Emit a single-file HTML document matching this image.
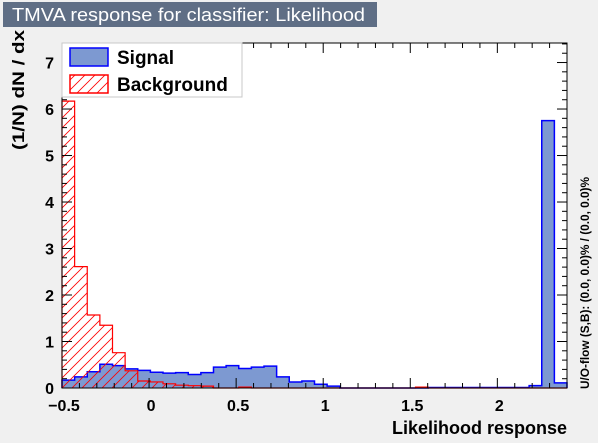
<!DOCTYPE html>
<html><head><meta charset="utf-8"><style>
body{margin:0;background:#f0f0f0;}
svg{display:block;font-family:"Liberation Sans",sans-serif;}
</style></head><body>
<svg id="c" width="598" height="443">
<defs>
<pattern id="hatch" patternUnits="userSpaceOnUse" width="10" height="10">
<path d="M0,10 L10,0 M-2,2 L2,-2 M8,12 L12,8" stroke="#ff0000" stroke-width="0.8"/>
</pattern>
</defs>
<rect x="0" y="0" width="598" height="443" fill="#f0f0f0"/>
<rect x="3" y="2" width="374" height="25" fill="#5f6e85"/>
<text x="12" y="21" font-size="18" fill="#fff" textLength="353" lengthAdjust="spacingAndGlyphs">TMVA response for classifier: Likelihood</text>
<rect x="62" y="43" width="505" height="345" fill="#fff"/>
<g id="marks"></g>
<g id="axes"></g>
<rect x="62" y="43" width="505" height="345" fill="none" stroke="#000" stroke-width="1"/>
<g>
<rect x="62" y="43" width="180" height="54" fill="#fff" stroke="#c8c8c8"/>
<rect x="70" y="48" width="38" height="18" fill="#7d99d1" stroke="#0000ff" stroke-width="1.5"/>
<text x="117" y="64" font-size="19" font-weight="bold">Signal</text>
<rect x="70" y="75" width="38" height="18" fill="url(#hatch)" stroke="#ff0000" stroke-width="1.5"/>
<text x="117" y="91" font-size="19" font-weight="bold">Background</text>
</g>
<text transform="translate(24,90) rotate(-90)" text-anchor="middle" font-size="17" font-weight="bold" textLength="120" lengthAdjust="spacingAndGlyphs">(1/N) dN / dx</text>
<text x="567" y="434" text-anchor="end" font-size="18" font-weight="bold">Likelihood response</text>
<text transform="translate(589,389) rotate(-90)" font-size="11.5" font-weight="bold" textLength="212" lengthAdjust="spacingAndGlyphs">U/O-flow (S,B): (0.0, 0.0)% / (0.0, 0.0)%</text>
</svg>
<script>
const xMin=-0.5, xMax=2.4, nBins=40;
const signal=[0.17,0.24,0.35,0.51,0.48,0.41,0.38,0.34,0.32,0.33,0.29,0.33,0.45,0.48,0.42,0.45,0.47,0.24,0.13,0.15,0.08,0.04,0,0,0,0,0,0,0,0.01,0.01,0.01,0.01,0.01,0.01,0.01,0.01,0.05,5.75,0.11];
const background=[6.17,2.61,1.57,1.35,0.76,0.37,0.15,0.13,0.09,0.06,0.05,0.04,0,0,0.02,0,0,0,0,0,0,0,0,0,0,0,0,0,0.02,0,0,0,0,0,0,0,0,0,0,0];
const xTicks=[-0.5,0,0.5,1,1.5,2];
const xTickLabels=["−0.5","0","0.5","1","1.5","2"];
const yTicks=[0,1,2,3,4,5,6,7];
const L=62,R=567,T=43,B=388,yMax=7.42;
const X=v=>L+(v-xMin)/(xMax-xMin)*(R-L);
const Y=v=>B-v/yMax*(B-T);
const NS="http://www.w3.org/2000/svg";
const marks=document.getElementById('marks'),axes=document.getElementById('axes');
const bw=(xMax-xMin)/nBins;
function stepPath(arr){
  let d="M"+X(xMin)+","+B;
  arr.forEach((v,i)=>{d+=" L"+X(xMin+i*bw)+","+Y(v)+" L"+X(xMin+(i+1)*bw)+","+Y(v);});
  return d+" L"+X(xMax)+","+B;
}
const sp=document.createElementNS(NS,'path');
sp.setAttribute('d',stepPath(signal));sp.setAttribute('fill','#7d99d1');sp.setAttribute('stroke','#0000ff');sp.setAttribute('stroke-width','1.5');


marks.appendChild(sp);
const bp=document.createElementNS(NS,'path');
bp.setAttribute('d',stepPath(background));bp.setAttribute('fill','url(#hatch)');bp.setAttribute('stroke','#ff0000');bp.setAttribute('stroke-width','1.2');


marks.appendChild(bp);
function line(x1,y1,x2,y2){const l=document.createElementNS(NS,'line');l.setAttribute('x1',x1);l.setAttribute('y1',y1);l.setAttribute('x2',x2);l.setAttribute('y2',y2);l.setAttribute('stroke','#000');axes.appendChild(l);}
for(let v=-0.5;v<=2.4001;v+=0.1){const x=X(v);const major=Math.abs(v*2-Math.round(v*2))<1e-6;const h=major?10:5;line(x,B,x,B-h);line(x,T,x,T+h);}
for(let v=0;v<=yMax;v+=0.2){const y=Y(v);const major=Math.abs(v-Math.round(v))<1e-6;const h=major?10:5;line(L,y,L+h,y);line(R,y,R-h,y);}
xTicks.forEach((v,i)=>{const t=document.createElementNS(NS,'text');t.setAttribute('x',X(v)+2);t.setAttribute('y',B+23);t.setAttribute('text-anchor','middle');t.setAttribute('font-size','16');t.setAttribute('font-weight','bold');t.textContent=xTickLabels[i];


axes.appendChild(t);});
yTicks.forEach(v=>{const t=document.createElementNS(NS,'text');t.setAttribute('x',L-8);t.setAttribute('y',Y(v)+6);t.setAttribute('text-anchor','end');t.setAttribute('font-size','16');t.setAttribute('font-weight','bold');t.textContent=v;


axes.appendChild(t);});
</script>
</body></html>
